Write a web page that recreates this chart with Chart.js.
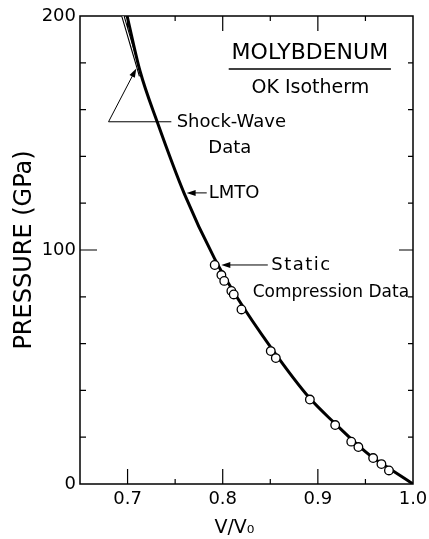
<!DOCTYPE html>
<html>
<head>
<meta charset="utf-8">
<script src="https://cdn.jsdelivr.net/npm/chart.js@4.4.1/dist/chart.umd.min.js"></script>
<style>
  body { margin: 0; background: #fff; }
  canvas { display: block; }
</style>
</head>
<body>
<canvas id="isoterma" width="429" height="539"></canvas>
<script>
// curva LMTO (V/V0 -> presion en GPa)
const lmtoV = [0.6995, 0.713, 0.7313, 0.7598, 0.7916, 0.8135, 0.8513, 0.8916, 0.9179, 0.9424, 0.9565, 0.9775, 1.0];
const lmtoP = [200, 176.6, 154.6, 123.9, 96.2, 80.8, 58.0, 36.6, 25.9, 16.5, 11.7, 6.0, 0];

// datos de compresion estatica (circulos)
const staticV = [0.7916, 0.7986, 0.8016, 0.8091, 0.8116, 0.8197, 0.8505, 0.8558, 0.8916, 0.9182, 0.9351, 0.9426, 0.9581, 0.9668, 0.9747];
const staticP = [93.6, 89.3, 86.8, 82.5, 81.0, 74.6, 56.8, 53.8, 36.1, 25.2, 18.1, 15.8, 11.1, 8.5, 5.8];

// datos de onda de choque (linea fina doble)
const shockV = [0.6951, 0.7045, 0.7136];
const shockP = [200, 187, 174.4];

// ticks
const xLabels = [0.7, 0.8, 0.9, 1.0];
const yLabels = [0, 100, 200];
const xMajor = [0.7, 0.8, 0.9];
const xMinor = [0.75, 0.85, 0.95];
const yMajor = [100];
const yMinor = [20, 40, 60, 80, 120, 140, 160, 180];

const puntos = (vs, ps) => vs.map((v, i) => ({ x: v, y: ps[i] }));

Chart.defaults.font.family = "'DejaVu Sans', sans-serif";
Chart.defaults.color = '#000';

function flecha(ctx, x0, y0, x1, y1) {
    const ang = Math.atan2(y1 - y0, x1 - x0);
    const largo = 9, ancho = 3;
    ctx.beginPath();
    ctx.moveTo(x0, y0);
    ctx.lineTo(x1 - Math.cos(ang) * largo * 0.8, y1 - Math.sin(ang) * largo * 0.8);
    ctx.stroke();
    ctx.beginPath();
    ctx.moveTo(x1, y1);
    ctx.lineTo(x1 - Math.cos(ang) * largo + Math.sin(ang) * ancho, y1 - Math.sin(ang) * largo - Math.cos(ang) * ancho);
    ctx.lineTo(x1 - Math.cos(ang) * largo - Math.sin(ang) * ancho, y1 - Math.sin(ang) * largo + Math.cos(ang) * ancho);
    ctx.closePath();
    ctx.fill();
}

// marco, ticks hacia dentro y textos
const marco = {
    id: 'marco',
    beforeDatasetsDraw(chart) {
        const { ctx, chartArea: a, scales: { x, y } } = chart;
        ctx.save();
        ctx.strokeStyle = '#000';
        ctx.lineWidth = 1.5;
        ctx.strokeRect(a.left, a.top, a.right - a.left, a.bottom - a.top);
        ctx.lineWidth = 1.2;
        ctx.beginPath();
        xMajor.forEach(v => {
            const px = x.getPixelForValue(v);
            ctx.moveTo(px, a.bottom); ctx.lineTo(px, a.bottom - 15);
            ctx.moveTo(px, a.top); ctx.lineTo(px, a.top + 15);
        });
        xMinor.forEach(v => {
            const px = x.getPixelForValue(v);
            ctx.moveTo(px, a.bottom); ctx.lineTo(px, a.bottom - 5);
            ctx.moveTo(px, a.top); ctx.lineTo(px, a.top + 5);
        });
        yMajor.forEach(v => {
            const py = y.getPixelForValue(v);
            ctx.moveTo(a.left, py); ctx.lineTo(a.left + 17, py);
            ctx.moveTo(a.right, py); ctx.lineTo(a.right - 14, py);
        });
        yMinor.forEach(v => {
            const py = y.getPixelForValue(v);
            ctx.moveTo(a.left, py); ctx.lineTo(a.left + 6, py);
            ctx.moveTo(a.right, py); ctx.lineTo(a.right - 5, py);
        });
        ctx.stroke();
        ctx.restore();
    },
    afterDatasetsDraw(chart) {
        const { ctx, scales: { x, y } } = chart;
        const X = v => x.getPixelForValue(v);
        const Y = p => y.getPixelForValue(p);
        ctx.save();
        ctx.fillStyle = '#000';
        ctx.strokeStyle = '#000';
        ctx.textBaseline = 'middle';

        // titulo
        ctx.font = "22px 'DejaVu Sans'";
        ctx.textAlign = 'center';
        ctx.fillText('MOLYBDENUM', X(0.8916), Y(184.2));
        ctx.lineWidth = 1.5;
        ctx.beginPath();
        ctx.moveTo(X(0.8063), Y(177.4));
        ctx.lineTo(X(0.9768), Y(177.4));
        ctx.stroke();
        ctx.font = "19px 'DejaVu Sans'";
        ctx.fillText('OK Isotherm', X(0.8921), Y(169.2));

        // onda de choque
        ctx.lineWidth = 1;
        ctx.beginPath();
        ctx.moveTo(X(0.68), Y(154.8));
        ctx.lineTo(X(0.746), Y(154.8));
        ctx.stroke();
        flecha(ctx, X(0.68), Y(154.8), X(0.7092), Y(177.6));
        ctx.font = "18px 'DejaVu Sans'";
        ctx.textAlign = 'left';
        ctx.fillText('Shock-Wave', X(0.7516), Y(154.7));
        ctx.textAlign = 'center';
        ctx.fillText('Data', X(0.8074), Y(143.6));

        // LMTO
        flecha(ctx, X(0.7832), Y(124.4), X(0.7621), Y(124.4));
        ctx.textAlign = 'left';
        ctx.fillText('LMTO', X(0.7853), Y(124.4));

        // compresion estatica
        flecha(ctx, X(0.8474), Y(93.6), X(0.7985), Y(93.6));
        ctx.letterSpacing = '1.5px';
        ctx.fillText('Static', X(0.851), Y(93.6));
        ctx.letterSpacing = '0px';
        ctx.font = "17px 'DejaVu Sans'";
        ctx.textAlign = 'center';
        ctx.fillText('Compression Data', X(0.9137), Y(81.9));
        ctx.restore();
    }
};

new Chart(document.getElementById('isoterma'), {
    type: 'scatter',
    data: {
        datasets: [
            {
                data: puntos(staticV, staticP),
                showLine: false,
                pointRadius: 4.3,
                pointBackgroundColor: '#fff',
                pointBorderColor: '#000',
                pointBorderWidth: 1.3,
                order: 0
            },
            {
                data: puntos(lmtoV, lmtoP),
                showLine: true,
                borderColor: '#000',
                borderWidth: 3,
                pointRadius: 0,
                cubicInterpolationMode: 'monotone',
                order: 1
            },
            {
                data: puntos(shockV, shockP),
                showLine: true,
                borderColor: '#fff',
                borderWidth: 1.2,
                pointRadius: 0,
                cubicInterpolationMode: 'monotone',
                order: 2
            },
            {
                data: puntos(shockV, shockP),
                showLine: true,
                borderColor: '#000',
                borderWidth: 3.4,
                pointRadius: 0,
                cubicInterpolationMode: 'monotone',
                order: 3
            }
        ]
    },
    options: {
        responsive: false,
        animation: false,
        devicePixelRatio: 1,
        layout: { padding: { top: 16, right: 16, left: 0, bottom: 0 } },
        plugins: { legend: { display: false }, tooltip: { enabled: false } },
        scales: {
            x: {
                type: 'linear',
                min: 0.65,
                max: 1.0,
                afterBuildTicks: s => { s.ticks = xLabels.map(v => ({ value: v })); },
                afterFit: s => { s.height = 55; s.paddingLeft = 0; s.paddingRight = 0; },
                grid: { display: false, drawTicks: false },
                border: { display: false },
                ticks: {
                    padding: 5,
                    font: { size: 18 },
                    maxRotation: 0,
                    callback: v => v.toFixed(1)
                },
                title: {
                    display: true,
                    text: 'V/V₀    ',
                    font: { size: 19 },
                    padding: { top: 0, bottom: 0 }
                }
            },
            y: {
                type: 'linear',
                min: 0,
                max: 200,
                afterBuildTicks: s => { s.ticks = yLabels.map(v => ({ value: v })); },
                afterFit: s => { s.width = 80; s.paddingTop = 0; s.paddingBottom = 0; },
                grid: { display: false, drawTicks: false },
                border: { display: false },
                ticks: { padding: 4, font: { size: 18 } },
                title: {
                    display: true,
                    text: 'PRESSURE (GPa)',
                    font: { size: 24 },
                    padding: { top: 10, bottom: 0 }
                }
            }
        }
    },
    plugins: [marco]
});
</script>
</body>
</html>
